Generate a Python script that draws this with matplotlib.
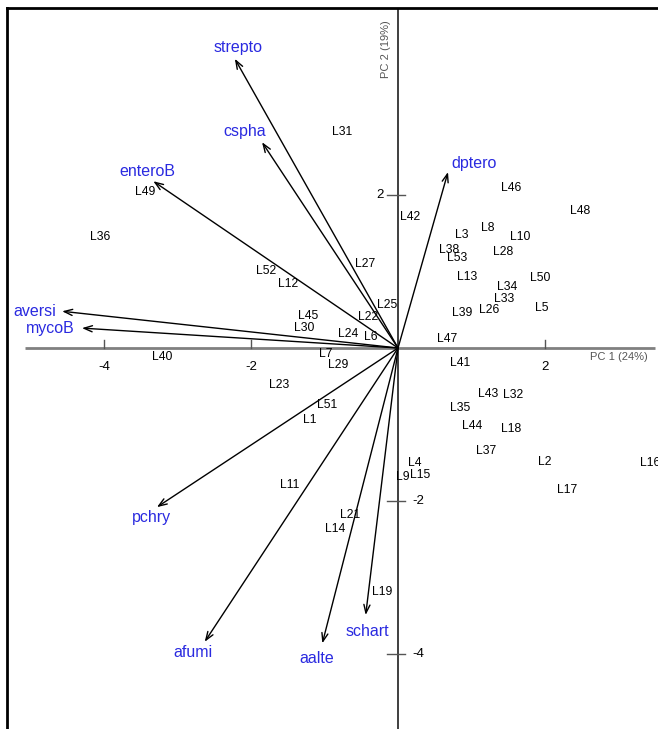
import matplotlib.pyplot as plt

plt.rcParams['font.family'] = ['Liberation Sans', 'DejaVu Sans']

# sample scores (PC1, PC2)
site_names = ['L1', 'L2', 'L3', 'L4', 'L5', 'L6', 'L7', 'L8', 'L9', 'L10',
              'L11', 'L12', 'L13', 'L14', 'L15', 'L16', 'L17', 'L18', 'L19',
              'L21', 'L22', 'L23', 'L24', 'L25', 'L26', 'L27', 'L28', 'L29',
              'L30', 'L31', 'L32', 'L33', 'L34', 'L35', 'L36', 'L37', 'L38',
              'L39', 'L40', 'L41', 'L42', 'L43', 'L44', 'L45', 'L46', 'L47',
              'L48', 'L49', 'L50', 'L51', 'L52', 'L53']
site_pc1 = [-1.20, 2.00, 0.87, 0.23, 1.96, -0.37, -0.98, 1.22, 0.07, 1.66,
            -1.48, -1.50, 0.94, -0.86, 0.30, 3.43, 2.30, 1.54, -0.22,
            -0.65, -0.41, -1.62, -0.68, -0.15, 1.24, -0.45, 1.43, -0.82,
            -1.27, -0.76, 1.57, 1.44, 1.48, 0.84, -4.05, 1.20, 0.69,
            0.87, -3.21, 0.84, 0.16, 1.22, 1.01, -1.22, 1.54, 0.67,
            2.48, -3.44, 1.93, -0.97, -1.80, 0.80]
site_pc2 = [-0.94, -1.49, 1.48, -1.50, 0.52, 0.14, -0.08, 1.57, -1.69, 1.45,
            -1.79, 0.84, 0.93, -2.37, -1.66, -1.50, -1.86, -1.06, -3.19,
            -2.18, 0.41, -0.48, 0.18, 0.56, 0.50, 1.10, 1.26, -0.22,
            0.26, 2.82, -0.61, 0.64, 0.80, -0.78, 1.45, -1.35, 1.28,
            0.46, -0.12, -0.20, 1.71, -0.60, -1.02, 0.42, 2.09, 0.12,
            1.79, 2.04, 0.92, -0.75, 1.01, 1.18]

# variable loadings
var_names = ['strepto', 'cspha', 'enteroB', 'aversi', 'mycoB', 'dptero',
             'pchry', 'afumi', 'aalte', 'schart']
var_pc1 = [-2.22, -1.85, -3.33, -4.57, -4.30, 0.68, -3.28, -2.63, -1.03, -0.44]
var_pc2 = [3.78, 2.69, 2.18, 0.48, 0.26, 2.30, -2.08, -3.84, -3.86, -3.49]

x_ticks = [-4, -2, 2]
y_ticks = [2, -2, -4]

# label offsets from arrow tips (pixels)
label_offsets = [(3, 11), (-17, 11), (-6, 10), (-27, 0), (-32, 0), (26, 9),
                 (-5, -10), (-12, -11), (-6, -15), (2, -16)]

fig = plt.figure(figsize=(6.58, 7.29), dpi=100)
ax = fig.add_axes([7 / 658, 0, 1 - 7 / 658, 1 - 8 / 729])
ax.set_xlim(-5.32, 3.537)
ax.set_ylim(-4.98, 4.444)
for side in ['right', 'bottom']:
    ax.spines[side].set_visible(False)
for side in ['left', 'top']:
    ax.spines[side].set_linewidth(2)
ax.set_xticks([])
ax.set_yticks([])

# axes through origin
ax.plot([-5.07, 3.50], [0, 0], color='#808080', lw=2, solid_capstyle='butt')
ax.axvline(0, color='#303030', lw=1.3)

for t in x_ticks:
    ax.plot([t, t], [0, 0.1], color='#555555', lw=1)
    ax.text(t, -0.25, str(t), ha='center', va='center', fontsize=9.5)
for t in y_ticks:
    ax.plot([-0.15, 0.1], [t, t], color='#555555', lw=1)
    if t > 0:
        ax.text(-0.2, t, str(t), ha='right', va='center', fontsize=9.5)
    else:
        ax.text(0.19, t, str(t), ha='left', va='center', fontsize=9.5)

ax.text(3.00, -0.12, 'PC 1 (24%)', ha='center', va='center', fontsize=8,
        color='#555555')
ax.text(-0.17, 3.90, 'PC 2 (19%)', ha='center', va='center', fontsize=8,
        color='#555555', rotation=90)

for name, x, y in zip(site_names, site_pc1, site_pc2):
    ax.text(x, y, name, ha='center', va='center', fontsize=8.7)

for name, x, y, off in zip(var_names, var_pc1, var_pc2, label_offsets):
    ax.annotate('', xy=(x, y), xytext=(0, 0),
                arrowprops=dict(arrowstyle='->,head_length=0.6,head_width=0.22',
                                lw=1, color='black', shrinkA=0, shrinkB=0))
    ax.annotate(name, xy=(x, y), xytext=off, textcoords='offset pixels',
                ha='center', va='center', fontsize=11.5, color='#2a2ae0')

fig.savefig('out.png', dpi=100)
